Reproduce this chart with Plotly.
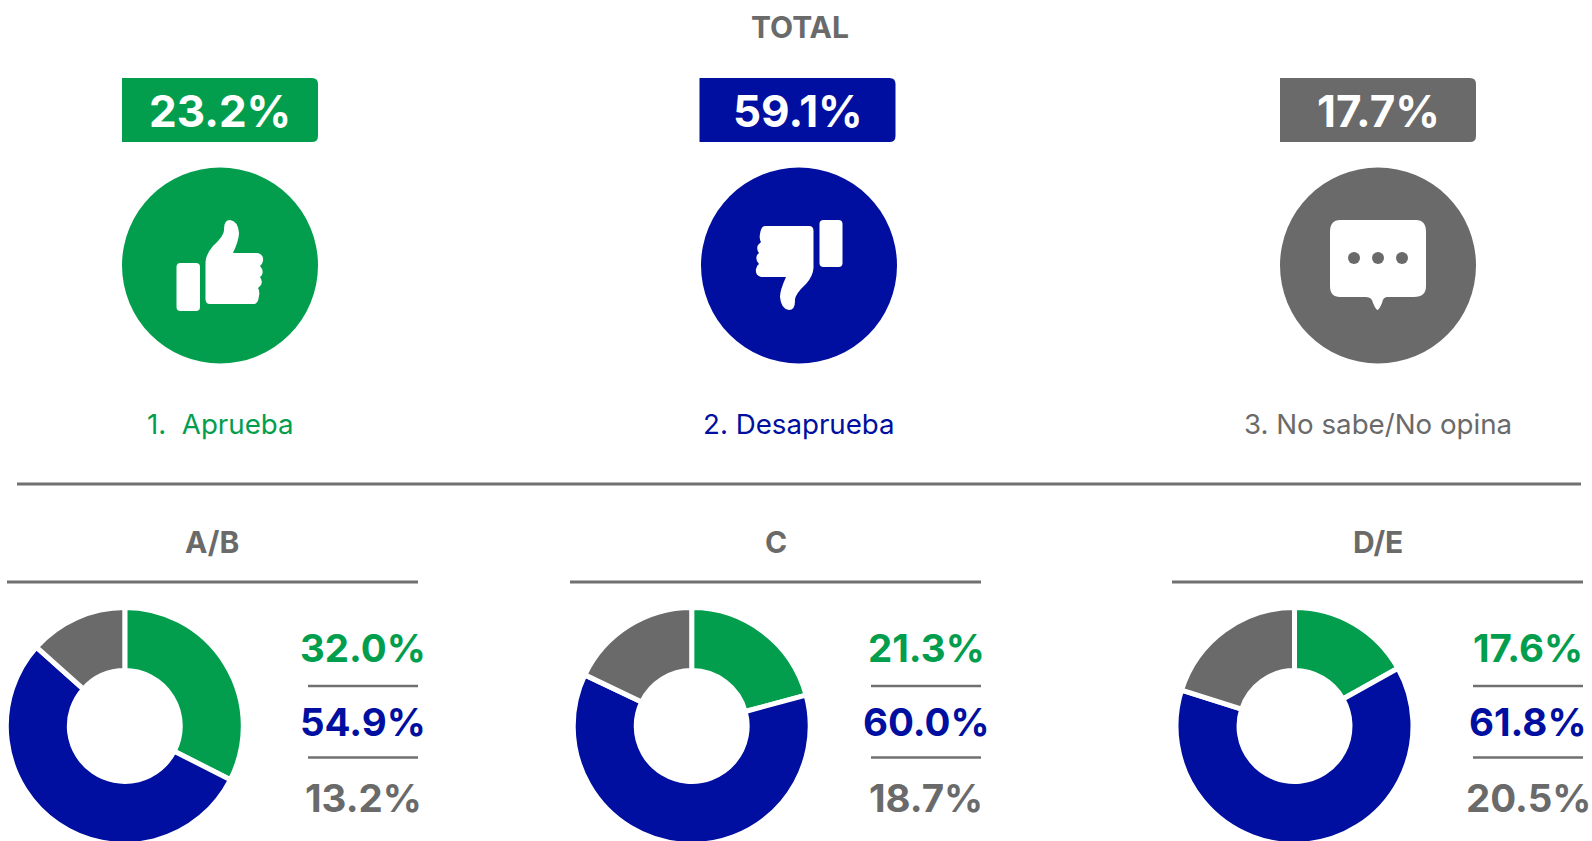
import plotly.graph_objects as go

GREEN, BLUE, GREY = "#029E4E", "#000F9F", "#6A6A6A"
COLORS = [GREEN, BLUE, GREY]
FONT = "Inter"
BOLD = "Inter"

total_labels = ["1.  Aprueba", "2. Desaprueba", "3. No sabe/No opina"]
total_values = [23.2, 59.1, 17.7]
segments = ["A/B", "C", "D/E"]
# printed labels
aprueba = [32.0, 21.3, 17.6]
desaprueba = [54.9, 60.0, 61.8]
no_sabe = [13.2, 18.7, 20.5]
# slice sizes as drawn in the picture (they differ slightly from the printed labels)
slice_aprueba = [32.5, 20.8, 16.9]
slice_desaprueba = [54.1, 61.3, 63.0]
slice_no_sabe = [13.4, 17.9, 20.1]

W, H = 1592, 846
top_cx = [220, 799, 1378]
badge_left = [122, 699.5, 1280]
circle_cx = [220, 799, 1378]
pie_cx = [124.8, 691.7, 1294.5]
pie_cy, pie_r = 726, 118.5
seg_title_x = [212, 776, 1378]
seg_rule = [(7, 418), (570, 981), (1172, 1583)]
val_x = [363, 926, 1528]
val_rule = [(308, 418), (871, 981), (1473, 1583)]

fig = go.Figure()
fig.add_trace(go.Scatter(x=[0, W], y=[0, H], mode="markers", marker=dict(opacity=0), hoverinfo="skip", showlegend=False))

for i, seg in enumerate(segments):
    vals = [slice_aprueba[i], slice_desaprueba[i], slice_no_sabe[i]]
    fig.add_trace(go.Pie(
        values=vals, labels=["Aprueba", "Desaprueba", "No sabe/No opina"], hole=0.468, sort=False,
        direction="clockwise", rotation=0, textinfo="none", showlegend=False,
        marker=dict(colors=COLORS, line=dict(color="white", width=5)),
        domain=dict(x=[(pie_cx[i]-pie_r)/W, (pie_cx[i]+pie_r)/W], y=[1-(pie_cy+pie_r)/H, 1-(pie_cy-pie_r)/H]),
    ))

shapes = []
def path(d, color):
    shapes.append(dict(type="path", xref="x", yref="y", path=d, fillcolor=color, line=dict(width=0), layer="above"))
def rule(x0, x1, y, w=3):
    shapes.append(dict(type="line", xref="x", yref="y", x0=x0, x1=x1, y0=y, y1=y, line=dict(color="#707070", width=w)))
def rrect(x0, y0, x1, y1, r):
    return (f"M{x0+r},{y0} L{x1-r},{y0} Q{x1},{y0} {x1},{y0+r} L{x1},{y1-r} Q{x1},{y1} {x1-r},{y1} "
            f"L{x0+r},{y1} Q{x0},{y1} {x0},{y1-r} L{x0},{y0+r} Q{x0},{y0} {x0+r},{y0} Z")
def circle(cx, cy, r, color):
    shapes.append(dict(type="circle", xref="x", yref="y", x0=cx-r, x1=cx+r, y0=cy-r, y1=cy+r,
                       fillcolor=color, line=dict(width=0), layer="above"))

ann = []
def text(x, y, s, size, color, weight=400, family=FONT):
    ann.append(dict(xref="x", yref="y", x=x, y=y, text=s, showarrow=False, xanchor="center", yanchor="middle",
                    font=dict(family=family, size=size, color=color, weight=weight)))

text(799.5, 27, "TOTAL", 30, GREY, 700, BOLD)
for i in range(3):
    x0 = badge_left[i]
    c = COLORS[i]
    y0, y1, x1, r = 78, 142, x0 + 196, 6
    path(f"M{x0},{y0} L{x1-r},{y0} Q{x1},{y0} {x1},{y0+r} L{x1},{y1-r} Q{x1},{y1} {x1-r},{y1} L{x0},{y1} Z", c)
    text(x0 + 98, 111, f"{total_values[i]:.1f}%", 44, "white", 700, BOLD)
    circle(circle_cx[i], 265.5, 98, c)
    text(top_cx[i], 424, total_labels[i], 27.7, c, 400)

# thumbs up
path(rrect(176.5, 263, 200, 311, 4), "white")
path("M205.5,299 L205.5,262 Q206,254 213,246 Q225,235 224,229 Q224,220 230,220 Q238,221 239,233 Q239,240 233,253 "
     "L258,253 Q264,255 263,261 Q262,265 260,266 Q264,270 262,275 L260,277 Q263,281 261,285 L258,288 Q260,291 259,296 "
     "Q258,304 254,304 L210,304 Q205.5,304 205.5,299 Z", "white")
# thumbs down
path(rrect(819.5, 220, 842.5, 267, 4), "white")
path("M813.5,231 L813.5,268 Q813,276 806,284 Q794,295 795,301 Q795,310 789,310 Q781,309 780,297 Q780,290 786,277 "
     "L761,277 Q755,275 756,269 Q757,265 759,264 Q755,260 757,255 L759,253 Q756,249 758,245 L761,242 Q759,239 760,234 "
     "Q761,226 765,226 L809,226 Q813.5,226 813.5,231 Z", "white")
# speech bubble
path("M1340,220 L1416,220 Q1426,220 1426,232 L1426,286 Q1426,297 1414,297 L1387,297 Q1383,297 1382,303 Q1379,310 1377.5,310 "
     "Q1376,310 1373,303 Q1372,297 1366,297 L1340,297 Q1330,297 1330,286 L1330,232 Q1330,220 1340,220 Z", "white")
for dx in (1354, 1378, 1402):
    circle(dx, 258, 6, GREY)

rule(17, 1581, 484, 3)
for i, seg in enumerate(segments):
    text(seg_title_x[i], 542, seg, 30, GREY, 700, BOLD)
    rule(*seg_rule[i], 582, 3)
    rule(*val_rule[i], 686, 2.5)
    rule(*val_rule[i], 757.5, 2.5)
    text(val_x[i], 648, f"{aprueba[i]:.1f}%", 38.5, GREEN, 700, BOLD)
    text(val_x[i], 722, f"{desaprueba[i]:.1f}%", 38.5, BLUE, 700, BOLD)
    text(val_x[i], 798, f"{no_sabe[i]:.1f}%", 38.5, GREY, 700, BOLD)

fig.update_layout(
    width=W, height=H, margin=dict(l=0, r=0, t=0, b=0), paper_bgcolor="white", plot_bgcolor="rgba(0,0,0,0)",
    xaxis=dict(range=[0, W], visible=False, fixedrange=True, domain=[0, 1]),
    yaxis=dict(range=[H, 0], visible=False, fixedrange=True, domain=[0, 1]),
    shapes=shapes, annotations=ann, showlegend=False, hovermode=False,
)
fig.write_html("out.html", post_script="document.body.style.margin='0';document.documentElement.style.overflow='hidden';document.body.style.overflow='hidden';", config={"displayModeBar": False})
